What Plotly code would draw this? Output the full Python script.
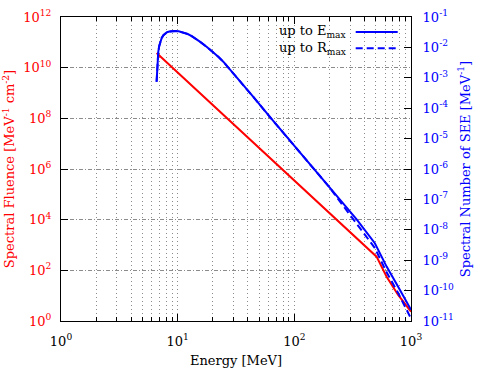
import plotly.graph_objects as go

# --- data ---
fluence_E = [6.6, 10, 20, 50, 100, 200, 300, 400, 507, 618, 776, 1000]
fluence_log = [10.58, 9.81, 8.53, 6.84, 5.56, 4.28, 3.53, 3.00, 2.54, 1.75, 1.03, 0.37]

see_E = [6.6, 6.65, 6.72, 6.82, 6.95, 7.1, 7.3, 7.55, 7.8, 8.1, 8.5, 9.0, 9.5, 10.2, 11.2,
         12.2, 13.2, 14.3, 15.5, 17.7, 20.2, 22.3, 24.6, 28, 34.2, 44.5, 63, 100, 145,
         202, 224, 342, 490, 618, 776, 977, 1000]
see_emax_log = [-3.13, -2.80, -2.45, -2.15, -1.95, -1.80, -1.69, -1.60, -1.54, -1.50, -1.475,
                -1.462, -1.46, -1.47, -1.51, -1.56, -1.63, -1.71, -1.81, -1.98, -2.16, -2.31,
                -2.47, -2.72, -3.10, -3.63, -4.33, -5.23, -5.96, -6.60, -6.80, -7.66, -8.44,
                -9.21, -9.87, -10.58, -10.63]
see_rmax_log = [-3.13, -2.80, -2.45, -2.15, -1.95, -1.80, -1.69, -1.60, -1.54, -1.50, -1.475,
                -1.462, -1.46, -1.47, -1.51, -1.56, -1.63, -1.71, -1.81, -1.98, -2.16, -2.31,
                -2.47, -2.72, -3.10, -3.63, -4.33, -5.23, -5.96, -6.62, -6.86, -7.78, -8.60,
                -9.40, -10.08, -10.84, -10.90]

x_exponents = [0, 1, 2, 3]
y_exponents = [0, 2, 4, 6, 8, 10, 12]
y2_exponents = [-11, -10, -9, -8, -7, -6, -5, -4, -3, -2, -1]
x_minor_digits = [2, 3, 4, 5, 6, 7, 8, 9]

fluence = [10 ** v for v in fluence_log]
see_emax = [10 ** v for v in see_emax_log]
see_rmax = [10 ** v for v in see_rmax_log]


def pow_ticks(exps):
    return [10.0 ** e for e in exps], ["10<sup>%d</sup>" % e for e in exps]


x_minor_vals = [d * 10.0 ** e for e in x_exponents[:-1] for d in x_minor_digits]

RED = "#ff0000"
BLUE = "#0000ff"
GRID = "#8c8c8c"
FONT = "DejaVu Serif"

fig = go.Figure()
fig.add_trace(go.Scatter(x=fluence_E, y=fluence, mode="lines",
                         line=dict(color=RED, width=2), showlegend=False, name="Fluence"))
fig.add_trace(go.Scatter(x=see_E, y=see_emax, mode="lines", yaxis="y2",
                         line=dict(color=BLUE, width=2), showlegend=False, name="up to Emax"))
fig.add_trace(go.Scatter(x=see_E, y=see_rmax, mode="lines", yaxis="y2",
                         line=dict(color=BLUE, width=2, dash="7px,4px"), showlegend=False,
                         name="up to Rmax"))

xv, xt = pow_ticks(x_exponents)
yv, yt = pow_ticks(y_exponents)
y2v, y2t = pow_ticks(y2_exponents)

fig.update_layout(
    width=500, height=375,
    margin=dict(l=61, r=89, t=17, b=54),
    paper_bgcolor="white", plot_bgcolor="white",
    font=dict(family=FONT, size=13, color="black"),
    xaxis=dict(
        type="log", range=[0, 3], tickmode="array", tickvals=xv, ticktext=xt,
        showline=True, linecolor="black", linewidth=1, mirror="ticks",
        ticks="inside", ticklen=7, tickcolor="black", ticklabelstandoff=8,
        showgrid=True, gridcolor=GRID, griddash="1px,3px", gridwidth=1,
        minor=dict(tickmode="array", tickvals=x_minor_vals,
                   ticks="inside", ticklen=4, tickcolor="black",
                   showgrid=True, gridcolor=GRID, griddash="1px,3px", gridwidth=1),
        tickfont=dict(size=13, color="black"),
        title=dict(text="Energy [MeV]", font=dict(size=13, color="black"), standoff=8),
        zeroline=False, automargin=False,
    ),
    yaxis=dict(
        type="log", range=[0, 12], tickmode="array", tickvals=yv, ticktext=yt,
        showline=True, linecolor="black", linewidth=1, mirror=True,
        ticks="inside", ticklen=7, tickcolor="black", ticklabelstandoff=6,
        showgrid=True, gridcolor=GRID, griddash="4px,2px,1px,2px", gridwidth=1,
        tickfont=dict(size=13, color=RED),
        title=dict(text="Spectral Fluence [MeV<sup>-1</sup> cm<sup>-2</sup>]",
                   font=dict(size=13, color=RED), standoff=5),
        zeroline=False, automargin=False,
    ),
    yaxis2=dict(
        type="log", range=[-11, -1], tickmode="array", tickvals=y2v, ticktext=y2t,
        overlaying="y", side="right", anchor="x",
        showline=True, linecolor="black", linewidth=1,
        ticks="inside", ticklen=7, tickcolor="black", ticklabelstandoff=8,
        showgrid=False,
        tickfont=dict(size=13, color=BLUE),
        title=dict(text="Spectral Number of SEE [MeV<sup>-1</sup>]",
                   font=dict(size=13, color=BLUE), standoff=7),
        zeroline=False, automargin=False,
    ),
)

# manual legend (text left of the line sample, as in the reference)
legend_rows = [("up to E<sub>max</sub>", "solid", 0.951), ("up to R<sub>max</sub>", "7px,4px", 0.897)]
for label, dash, yy in legend_rows:
    fig.add_annotation(xref="paper", yref="paper", x=0.822, y=yy, text=label,
                       showarrow=False, xanchor="right", yanchor="middle",
                       font=dict(family=FONT, size=13, color="black"))
    fig.add_shape(type="line", xref="paper", yref="paper", x0=0.842, x1=0.962, y0=yy, y1=yy,
                  line=dict(color=BLUE, width=2, dash=dash))

fig.write_html("out.html", config={"displayModeBar": False},
               post_script="document.body.style.margin='0px';")
